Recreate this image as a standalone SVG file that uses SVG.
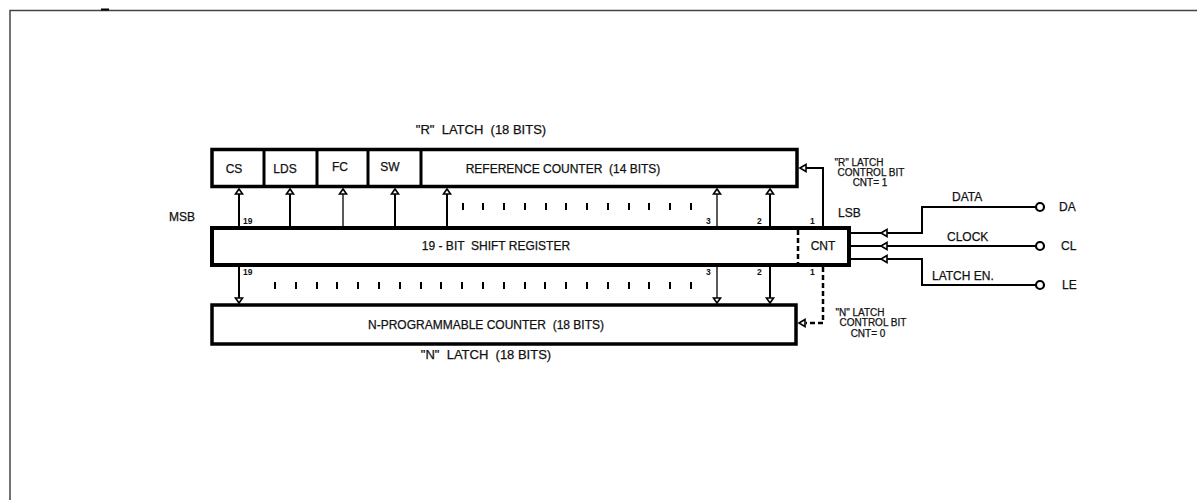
<svg xmlns="http://www.w3.org/2000/svg" width="1197" height="500" viewBox="0 0 1197 500" xml:space="preserve">
<style>
text{font-family:"Liberation Sans",Arial,sans-serif;fill:#111;stroke:#111;stroke-width:0.25;white-space:pre}
.lbl{font-size:12px}
.ttl{font-size:13px}
.num{font-size:8.5px;font-weight:bold;stroke:none}
.ctl{font-size:10px}
.box{fill:#fff;stroke:#000;stroke-width:3.5}
.w{stroke:#000;stroke-width:2;fill:none}
.t{stroke:#000;stroke-width:1.3;fill:none}
.dash{stroke:#000;stroke-width:2.5;stroke-dasharray:5,3;fill:none}
.tick{stroke:#000;stroke-width:2}
.ah{fill:#fff;stroke:#000;stroke-width:1.6}
.term{fill:#fff;stroke:#000;stroke-width:2.2}
</style>
<g id="frame">
<polyline points="10,500 10,10.5 1197,10.5" fill="none" stroke="#444" stroke-width="1.5"/>
<line x1="101" y1="9.5" x2="109" y2="9.5" stroke="#000" stroke-width="2"/>
</g>
<g id="r-latch">
<text class="ttl" x="481" y="134" text-anchor="middle">"R"  LATCH  (18 BITS)</text>
<rect class="box" x="212" y="149.5" width="585" height="37"/>
<line x1="264" y1="149" x2="264" y2="187" stroke="#000" stroke-width="3"/>
<line x1="317" y1="149" x2="317" y2="187" stroke="#000" stroke-width="3"/>
<line x1="368" y1="149" x2="368" y2="187" stroke="#000" stroke-width="3"/>
<line x1="421" y1="149" x2="421" y2="187" stroke="#000" stroke-width="3"/>
<text class="lbl" x="234" y="173" text-anchor="middle">CS</text>
<text class="lbl" x="285" y="173" text-anchor="middle">LDS</text>
<text class="lbl" x="340" y="171" text-anchor="middle">FC</text>
<text class="lbl" x="390" y="171" text-anchor="middle">SW</text>
<text class="lbl" x="563" y="173" text-anchor="middle">REFERENCE COUNTER  (14 BITS)</text>
</g>
<g id="shift-register">
<rect x="212" y="228" width="637" height="37" fill="#fff" stroke="#000" stroke-width="4"/>
<line class="dash" x1="798" y1="230" x2="798" y2="263"/>
<text class="lbl" x="496" y="250" text-anchor="middle">19 - BIT  SHIFT REGISTER</text>
<text class="lbl" x="823" y="250" text-anchor="middle">CNT</text>
</g>
<g id="n-latch">
<rect class="box" x="212" y="305" width="584" height="39"/>
<text class="lbl" x="486" y="329" text-anchor="middle">N-PROGRAMMABLE COUNTER  (18 BITS)</text>
<text class="ttl" x="486" y="359" text-anchor="middle">"N"  LATCH  (18 BITS)</text>
</g>
<g id="labels">
<text class="lbl" x="169" y="221">MSB</text>
<text class="lbl" x="838" y="217">LSB</text>
<text class="num" x="243" y="224">19</text>
<text class="num" x="706" y="224">3</text>
<text class="num" x="757" y="224">2</text>
<text class="num" x="810" y="224">1</text>
<text class="num" x="243" y="275">19</text>
<text class="num" x="706" y="275">3</text>
<text class="num" x="757" y="275">2</text>
<text class="num" x="810" y="275">1</text>
<text class="ctl" x="859" y="166" text-anchor="middle">"R" LATCH</text>
<text class="ctl" x="871" y="176" text-anchor="middle">CONTROL BIT</text>
<text class="ctl" x="870" y="186" text-anchor="middle">CNT= 1</text>
<text class="ctl" x="860" y="316" text-anchor="middle">"N" LATCH</text>
<text class="ctl" x="873" y="326" text-anchor="middle">CONTROL BIT</text>
<text class="ctl" x="868" y="337" text-anchor="middle">CNT= 0</text>
<text class="lbl" x="952" y="201">DATA</text>
<text class="lbl" x="947" y="241">CLOCK</text>
<text class="lbl" x="932" y="280">LATCH EN.</text>
<text class="lbl" x="1059" y="211">DA</text>
<text class="lbl" x="1061" y="250">CL</text>
<text class="lbl" x="1062" y="289">LE</text>
</g>
<g id="connectors">
<line class="w" x1="239" y1="226" x2="239" y2="192"/>
<line class="w" x1="290" y1="226" x2="290" y2="192"/>
<line class="t" x1="343" y1="226" x2="343" y2="192"/>
<line class="w" x1="395" y1="226" x2="395" y2="192"/>
<line class="w" x1="447" y1="226" x2="447" y2="192"/>
<line class="t" x1="717" y1="226" x2="717" y2="192"/>
<line class="w" x1="770" y1="226" x2="770" y2="192"/>
<polyline class="w" points="823,226 823,168 806,168"/>
<g>
<polygon class="ah" points="239,189 235.5,194 242.5,194"/>
<polygon class="ah" points="290,189 286.5,194 293.5,194"/>
<polygon class="ah" points="343,189 339.5,194 346.5,194"/>
<polygon class="ah" points="395,189 391.5,194 398.5,194"/>
<polygon class="ah" points="447,189 443.5,194 450.5,194"/>
<polygon class="ah" points="717,189 713.5,194 720.5,194"/>
<polygon class="ah" points="770,189 766.5,194 773.5,194"/>
<polygon class="ah" points="800,168 806,164.5 806,171.5"/>
</g>
<line class="w" x1="239" y1="267" x2="239" y2="300"/>
<line class="t" x1="717" y1="267" x2="717" y2="300"/>
<line class="w" x1="770" y1="267" x2="770" y2="300"/>
<polyline class="dash" points="823,267 823,323 806,323"/>
<polygon class="ah" points="239,303 235.5,298 242.5,298"/>
<polygon class="ah" points="717,303 713.5,298 720.5,298"/>
<polygon class="ah" points="770,303 766.5,298 773.5,298"/>
<polygon class="ah" points="799,323 805,319.5 805,326.5"/>
<g class="tick">
<line x1="463" y1="203" x2="463" y2="210"/><line x1="483" y1="203" x2="483" y2="210"/>
<line x1="504" y1="203" x2="504" y2="210"/><line x1="525" y1="203" x2="525" y2="210"/>
<line x1="546" y1="203" x2="546" y2="210"/><line x1="566" y1="203" x2="566" y2="210"/>
<line x1="587" y1="203" x2="587" y2="210"/><line x1="608" y1="203" x2="608" y2="210"/>
<line x1="629" y1="203" x2="629" y2="210"/><line x1="649" y1="203" x2="649" y2="210"/>
<line x1="670" y1="203" x2="670" y2="210"/><line x1="691" y1="203" x2="691" y2="210"/>
</g>
<g class="tick">
<line x1="275" y1="282" x2="275" y2="289"/><line x1="296" y1="282" x2="296" y2="289"/>
<line x1="317" y1="282" x2="317" y2="289"/><line x1="337" y1="282" x2="337" y2="289"/>
<line x1="358" y1="282" x2="358" y2="289"/><line x1="379" y1="282" x2="379" y2="289"/>
<line x1="400" y1="282" x2="400" y2="289"/><line x1="421" y1="282" x2="421" y2="289"/>
<line x1="441" y1="282" x2="441" y2="289"/><line x1="462" y1="282" x2="462" y2="289"/>
<line x1="483" y1="282" x2="483" y2="289"/><line x1="504" y1="282" x2="504" y2="289"/>
<line x1="525" y1="282" x2="525" y2="289"/><line x1="545" y1="282" x2="545" y2="289"/>
<line x1="566" y1="282" x2="566" y2="289"/><line x1="587" y1="282" x2="587" y2="289"/>
<line x1="608" y1="282" x2="608" y2="289"/><line x1="629" y1="282" x2="629" y2="289"/>
<line x1="649" y1="282" x2="649" y2="289"/><line x1="670" y1="282" x2="670" y2="289"/>
<line x1="691" y1="282" x2="691" y2="289"/>
</g>
<polyline class="w" points="851,233 922,233 922,207 1036,207"/>
<polyline class="w" points="851,246 1036,246"/>
<polyline class="w" points="851,259 922,259 922,285 1036,285"/>
<polygon class="ah" points="881,233 887,229.5 887,236.5"/>
<polygon class="ah" points="881,246 887,242.5 887,249.5"/>
<polygon class="ah" points="881,259 887,255.5 887,262.5"/>
<circle class="term" cx="1040" cy="207" r="4"/>
<circle class="term" cx="1040" cy="246" r="4"/>
<circle class="term" cx="1040" cy="285" r="4"/>
</g>
</svg>
